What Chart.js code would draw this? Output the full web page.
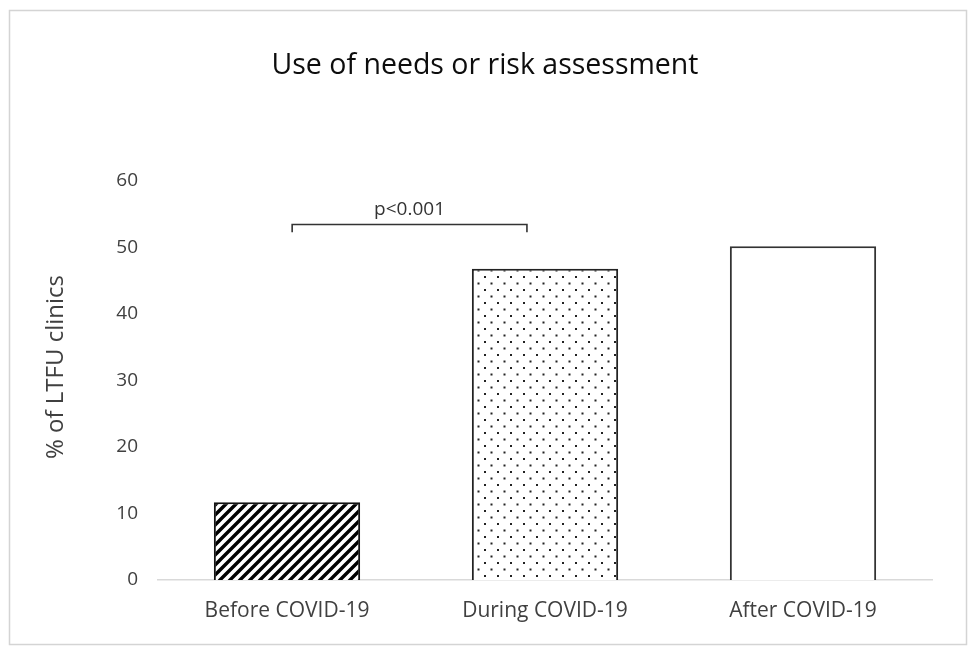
<!DOCTYPE html>
<html>
<head>
<meta charset="utf-8">
<script src="https://cdn.jsdelivr.net/npm/chart.js@4/dist/chart.umd.min.js"></script>
<style>
  html, body { margin: 0; padding: 0; background: #ffffff; }
  #wrap { width: 968px; height: 647px; position: relative; }
</style>
</head>
<body>
<div id="wrap"><canvas id="c" width="968" height="647"></canvas></div>
<script>
// ---- data ----
const chartTitle = "Use of needs or risk assessment";
const yAxisTitle = "% of LTFU clinics";
const categories = ["Before COVID-19", "During COVID-19", "After COVID-19"];
const values = [11.7, 46.8, 50.2];
const yTicks = [0, 10, 20, 30, 40, 50, 60];
const sigLabel = "p<0.001";
const sigPair = [0, 1];        // categories joined by the bracket
const sigLevel = [53.5, 52.3]; // bracket bar level, tick end level

const FONT = "'Open Sans', sans-serif";

function hatchPattern() {
  const s = 20;
  const c = document.createElement('canvas');
  c.width = s; c.height = s;
  const g = c.getContext('2d');
  g.fillStyle = '#ffffff'; g.fillRect(0, 0, s, s);
  g.strokeStyle = '#000000'; g.lineWidth = 3.4;
  g.lineCap = 'square';
  g.beginPath();
  for (let k = 0; k <= 4; k++) {
    const cc = k * 10;
    g.moveTo(cc + 6, -6);
    g.lineTo(cc - 26, 26);
  }
  g.stroke();
  return g.createPattern(c, 'repeat');
}
function dotPattern() {
  const w = 13, h = 13;
  const c = document.createElement('canvas');
  c.width = w; c.height = h;
  const g = c.getContext('2d');
  g.fillStyle = '#ffffff'; g.fillRect(0, 0, w, h);
  g.fillStyle = '#222222';
  g.fillRect(3, 3, 2, 2);
  g.fillRect(9.5, 9.5, 2, 2);
  return g.createPattern(c, 'repeat');
}

const decor = {
  id: 'decor',
  beforeDraw(chart) {
    const ctx = chart.ctx;
    ctx.save();
    ctx.fillStyle = '#ffffff';
    ctx.fillRect(0, 0, chart.width, chart.height);
    ctx.strokeStyle = '#d4d4d4';
    ctx.lineWidth = 1.5;
    ctx.strokeRect(9.5, 10.5, 957, 634);
    ctx.restore();
  },
  afterDraw(chart) {
    const ctx = chart.ctx;
    const xs = chart.scales.x, ys = chart.scales.y;
    ctx.save();
    // title
    ctx.fillStyle = '#0d0d0d';
    ctx.font = "28.5px " + FONT;
    ctx.textAlign = 'center';
    ctx.textBaseline = 'middle';
    ctx.fillText(chartTitle, 485, 66);
    // y axis title
    ctx.save();
    ctx.translate(56, 367);
    ctx.rotate(-Math.PI / 2);
    ctx.fillStyle = '#404040';
    ctx.font = "24px " + FONT;
    ctx.fillText(yAxisTitle, 0, 0);
    ctx.restore();
    // significance bracket
    const x0 = xs.getPixelForValue(sigPair[0] + 0.02);
    const x1 = xs.getPixelForValue(sigPair[1] - 0.07);
    const yb = Math.round(ys.getPixelForValue(sigLevel[0])) + 0.5;
    const yt = ys.getPixelForValue(sigLevel[1]);
    ctx.strokeStyle = '#333333';
    ctx.lineWidth = 1.6;
    ctx.beginPath();
    ctx.moveTo(x0, yt); ctx.lineTo(x0, yb); ctx.lineTo(x1, yb); ctx.lineTo(x1, yt);
    ctx.stroke();
    ctx.fillStyle = '#333333';
    ctx.font = "19px " + FONT;
    ctx.textBaseline = 'alphabetic';
    ctx.fillText(sigLabel, (x0 + x1) / 2, yb - 10);
    ctx.restore();
  }
};

new Chart(document.getElementById('c'), {
  type: 'bar',
  data: {
    labels: categories,
    datasets: [{
      data: values,
      backgroundColor: [hatchPattern(), dotPattern(), '#ffffff'],
      borderColor: ['#111111', '#222222', '#333333'],
      borderWidth: 2,
      categoryPercentage: 1.0,
      barPercentage: 0.567
    }]
  },
  options: {
    responsive: false,
    animation: false,
    events: [],
    layout: { padding: { top: 181, left: 0, right: 36, bottom: 0 } },
    plugins: { legend: { display: false }, title: { display: false }, tooltip: { enabled: false } },
    scales: {
      x: {
        grid: { display: false, drawTicks: false },
        border: { display: true, color: '#d9d9d9', width: 1.5 },
        ticks: { color: '#404040', font: { family: FONT, size: 21 }, padding: 18, maxRotation: 0 },
        afterFit(s) { s.height = 647 - 580; s.paddingLeft = 0; s.paddingRight = 0; }
      },
      y: {
        min: 0, max: 60,
        afterBuildTicks(s) { s.ticks = yTicks.map(v => ({ value: v })); },
        grid: { display: false, drawTicks: false },
        border: { display: false },
        ticks: { color: '#404040', font: { family: FONT, size: 19 }, padding: 20 },
        afterFit(s) { s.width = 158; s.paddingTop = 0; s.paddingBottom = 0; }
      }
    }
  },
  plugins: [decor]
});
</script>
</body>
</html>
